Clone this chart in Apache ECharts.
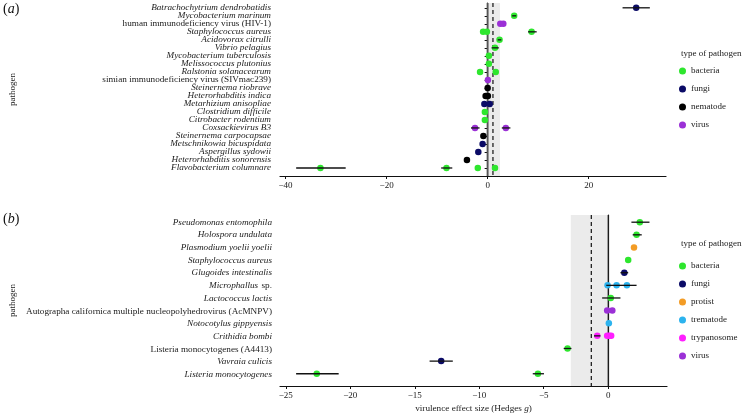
<!DOCTYPE html>
<html><head><meta charset="utf-8">
<script src="https://cdn.jsdelivr.net/npm/echarts@6/dist/echarts.min.js"></script>
<style>html,body{margin:0;padding:0;background:#fff}#c{width:742px;height:414px}</style>
</head><body><div id="c"></div><script>
// ---------- Panel (a) ----------
const labelsA = [
  '{i|Batrachochytrium dendrobatidis}',
  '{i|Mycobacterium marinum}',
  '{n|human immunodeficiency virus (HIV-1)}',
  '{i|Staphylococcus aureus}',
  '{i|Acidovorax citrulli}',
  '{i|Vibrio pelagius}',
  '{i|Mycobacterium tuberculosis}',
  '{i|Melissococcus plutonius}',
  '{i|Ralstonia solanacearum}',
  '{n|simian immunodeficiency virus (SIVmac239)}',
  '{i|Steinernema riobrave}',
  '{i|Heterorhabditis indica}',
  '{i|Metarhizium anisopliae}',
  '{i|Clostridium difficile}',
  '{i|Citrobacter rodentium}',
  '{i|Coxsackievirus B3}',
  '{i|Steinernema carpocapsae}',
  '{i|Metschnikowia bicuspidata}',
  '{i|Aspergillus sydowii}',
  '{i|Heterorhabditis sonorensis}',
  '{i|Flavobacterium columnare}'
];
// [row, effect, low, high]
const aBacteria = [[1,5.25,4.85,5.65],[3,-0.9,null,null],[3,-0.15,null,null],[3,8.7,8.0,9.7],[4,2.35,2.0,2.7],[5,1.45,0.8,2.2],[6,0.25,null,null],[7,0.25,null,null],[8,-1.5,null,null],[8,1.6,null,null],[13,-0.55,null,null],[14,-0.55,null,null],[20,-33.1,-37.9,-28.1],[20,-8.15,-9.2,-7.0],[20,-1.95,null,null],[20,1.45,null,null]];
const aFungi = [[0,29.4,26.7,32.1],[12,-0.65,null,null],[12,0.4,null,null],[17,-1.0,null,null],[18,-1.85,null,null]];
const aNematode = [[10,0.0,null,null],[11,-0.4,null,null],[11,0.05,null,null],[16,-0.85,null,null],[19,-4.1,null,null]];
const aVirus = [[2,2.5,null,null],[2,3.1,null,null],[9,0.05,null,null],[15,-2.5,-3.3,-1.6],[15,3.6,2.8,4.5]];
const aBand = [-0.1, 2.45, 1.05]; // CI low, CI high, mean
const aTicks = [-40,-20,0,20];

// ---------- Panel (b) ----------
const labelsB = [
  '{i|Pseudomonas entomophila}',
  '{i|Holospora undulata}',
  '{i|Plasmodium yoelii yoelii}',
  '{i|Staphylococcus aureus}',
  '{i|Glugoides intestinalis}',
  '{i|Microphallus} {n|sp.}',
  '{i|Lactococcus lactis}',
  '{n|Autographa californica multiple nucleopolyhedrovirus (AcMNPV)}',
  '{i|Notocotylus gippyensis}',
  '{i|Crithidia bombi}',
  '{n|Listeria monocytogenes (A4413)}',
  '{i|Vavraia culicis}',
  '{i|Listeria monocytogenes}'
];
const bBacteria = [[0,2.45,1.8,3.2],[1,2.2,1.9,2.6],[3,1.55,null,null],[6,0.2,-0.47,0.95],[10,-3.15,-3.45,-2.85],[12,-22.6,-24.2,-20.9],[12,-5.45,-5.85,-4.98]];
const bFungi = [[4,1.25,0.95,1.55],[11,-12.95,-13.85,-12.05]];
const bProtist = [[2,2.0,null,null]];
const bTrematode = [[5,-0.05,null,null],[5,0.65,null,null],[5,1.45,-0.15,2.2],[8,0.05,null,null]];
const bTrypanosome = [[9,-0.85,-1.1,-0.6],[9,-0.08,null,null],[9,0.08,null,null],[9,0.23,null,null]];
const bVirus = [[7,-0.08,null,null],[7,0.32,null,null]];
const bBand = [-2.9, 0.0, -1.31];
const bTicks = [-25,-20,-15,-10,-5,0];

const COLORS = {bacteria:'#2ee62e', fungi:'#0b0b66', nematode:'#000000', virus:'#9b30d6', protist:'#f39c25', trematode:'#2cb3ee', trypanosome:'#ff1fff'};
const FONT = 'Liberation Serif';
const rich = {i:{fontFamily:FONT,fontStyle:'italic',fontSize:9.2,color:'#1a1a1a'}, n:{fontFamily:FONT,fontSize:9.2,color:'#1a1a1a'}};
const minus = v => String(v).replace('-', '\u2212');

function range(n){return Array.from({length:n},(_,i)=>i);}

// layout of the two panels
const PA = {left:277, top:3, width:389, height:173, ymin:-0.6, ymax:21.0};
const PB = {left:278, top:215, width:389, height:172, ymin:-0.57, ymax:12.97};
// label grid aligned to value-axis rows
function labelGrid(p, n){
  const unit = p.height/(p.ymax-p.ymin);
  const row0 = p.top + (0-p.ymin)*unit;
  return {left:p.left, width:p.width, top:row0-unit/2, height:n*unit};
}

function xAxisCfg(grid, min, max, ticks, name){
  return {type:'value', gridIndex:grid, min:min, max:max,
    axisLine:{show:true,onZero:false,lineStyle:{color:'#111',width:1.2}},
    axisTick:{show:true,length:3,customValues:ticks,lineStyle:{color:'#111'}},
    axisLabel:{customValues:ticks,formatter:minus,fontFamily:FONT,fontSize:9,color:'#1a1a1a',margin:5,
      showMinLabel:true,showMaxLabel:true,hideOverlap:false},
    splitLine:{show:false},
    name:name||'', nameLocation:'middle', nameGap:18,
    nameTextStyle:{rich:rich}
  };
}
function yAxisCfg(grid, min, max, n){
  return {type:'value', gridIndex:grid, inverse:true, min:min, max:max,
    axisLine:{show:true,lineStyle:{color:'#111',width:1.2}},
    axisTick:{show:true,length:3,customValues:range(n),lineStyle:{color:'#111'}},
    axisLabel:{show:false},
    splitLine:{show:false},
    name:'pathogen', nameLocation:'middle', nameRotate:90, nameGap:263,
    nameTextStyle:{fontFamily:FONT,fontSize:9,color:'#1a1a1a'}
  };
}
function catAxisCfg(grid, labels){
  return {type:'category', gridIndex:grid, inverse:true, data:labels, boundaryGap:true,
    axisLine:{show:false}, axisTick:{show:false}, splitLine:{show:false},
    axisLabel:{interval:0, rich:rich, margin:6, formatter:v=>v}};
}
function hiddenX(grid){
  return {type:'value', gridIndex:grid, min:0, max:1, show:false, splitLine:{show:false}};
}
function bandSeries(idx, band, zeroColor, zeroWidth){
  return {type:'custom', xAxisIndex:idx, yAxisIndex:idx, z:1, silent:true,
    data:[[band[0],band[1],band[2],0]],
    renderItem:function(params, api){
      const cs = params.coordSys;
      const x0 = api.coord([api.value(0),0])[0];
      const x1 = api.coord([api.value(1),0])[0];
      const xm = api.coord([api.value(2),0])[0];
      const xz = api.coord([0,0])[0];
      return {type:'group', children:[
        {type:'rect', shape:{x:x0,y:cs.y,width:x1-x0,height:cs.height}, style:{fill:'#ebebeb'}},
        {type:'line', shape:{x1:xm,y1:cs.y,x2:xm,y2:cs.y+cs.height}, style:{stroke:'#111',lineWidth:1.2,lineDash:[4,3]}},
        {type:'line', shape:{x1:xz,y1:cs.y,x2:xz,y2:cs.y+cs.height}, style:{stroke:zeroColor,lineWidth:zeroWidth}}
      ]};
    }
  };
}
function pointSeries(idx, name, arr){
  return {type:'scatter', name:name, xAxisIndex:idx, yAxisIndex:idx, z:3,
    symbol:'circle', symbolSize:6.5, itemStyle:{color:COLORS[name],opacity:1},
    data:arr.map(d=>[d[1],d[0]])};
}
function errSeries(idx, arrs){
  const data = [];
  arrs.forEach(a=>a.forEach(d=>{ if(d[2]!==null) data.push([d[2],d[3],d[0]]); }));
  return {type:'custom', xAxisIndex:idx, yAxisIndex:idx, z:4, silent:true, data:data,
    renderItem:function(params, api){
      const p0 = api.coord([api.value(0),api.value(2)]);
      const p1 = api.coord([api.value(1),api.value(2)]);
      return {type:'line', shape:{x1:p0[0],y1:p0[1],x2:p1[0],y2:p1[1]}, style:{stroke:'#111',lineWidth:1.3}};
    }};
}

const chart = echarts.init(document.getElementById('c'), null, {renderer:'canvas'});
chart.setOption({
  animation:false,
  backgroundColor:'#fff',
  grid:[
    {left:PA.left, top:PA.top, width:PA.width, height:PA.height},
    {left:PB.left, top:PB.top, width:PB.width, height:PB.height},
    labelGrid(PA, labelsA.length),
    labelGrid(PB, labelsB.length)
  ],
  xAxis:[
    xAxisCfg(0, -41.1, 35.3, aTicks),
    xAxisCfg(1, -25.45, 4.56, bTicks, '{n|virulence effect size (Hedges }{i|g}{n|)}'),
    hiddenX(2), hiddenX(3)
  ],
  yAxis:[
    yAxisCfg(0, PA.ymin, PA.ymax, labelsA.length),
    yAxisCfg(1, PB.ymin, PB.ymax, labelsB.length),
    catAxisCfg(2, labelsA),
    catAxisCfg(3, labelsB)
  ],
  legend:[
    {data:['bacteria','fungi','nematode','virus'], orient:'vertical', left:679, top:66, padding:0,
     icon:'circle', itemWidth:7, itemHeight:7, itemGap:8,
     textStyle:{fontFamily:FONT,fontSize:9,color:'#1a1a1a',lineHeight:10}},
    {data:['bacteria','fungi','protist','trematode','trypanosome','virus'], orient:'vertical', left:679, top:261, padding:0,
     icon:'circle', itemWidth:7, itemHeight:7, itemGap:8,
     textStyle:{fontFamily:FONT,fontSize:9,color:'#1a1a1a',lineHeight:10}}
  ],
  graphic:[
    {type:'text', left:681, top:49, style:{text:'type of pathogen', font:'9px "Liberation Serif"', fill:'#1a1a1a'}},
    {type:'text', left:681, top:239, style:{text:'type of pathogen', font:'9px "Liberation Serif"', fill:'#1a1a1a'}},
    {type:'text', left:3, top:2, style:{text:'({i|a})', font:'14px "Liberation Serif"', fill:'#111', rich:{i:{fontStyle:'italic',fontFamily:FONT,fontSize:14}}}},
    {type:'text', left:3, top:212, style:{text:'({i|b})', font:'14px "Liberation Serif"', fill:'#111', rich:{i:{fontStyle:'italic',fontFamily:FONT,fontSize:14}}}}
  ],
  series:[
    bandSeries(0, aBand, '#555555', 1.8),
    pointSeries(0,'bacteria',aBacteria),
    pointSeries(0,'fungi',aFungi),
    pointSeries(0,'nematode',aNematode),
    pointSeries(0,'virus',aVirus),
    errSeries(0,[aBacteria,aFungi,aNematode,aVirus]),
    bandSeries(1, bBand, '#111111', 1.1),
    pointSeries(1,'bacteria',bBacteria),
    pointSeries(1,'fungi',bFungi),
    pointSeries(1,'protist',bProtist),
    pointSeries(1,'trematode',bTrematode),
    pointSeries(1,'trypanosome',bTrypanosome),
    pointSeries(1,'virus',bVirus),
    errSeries(1,[bBacteria,bFungi,bProtist,bTrematode,bTrypanosome,bVirus])
  ]
});
</script></body></html>
